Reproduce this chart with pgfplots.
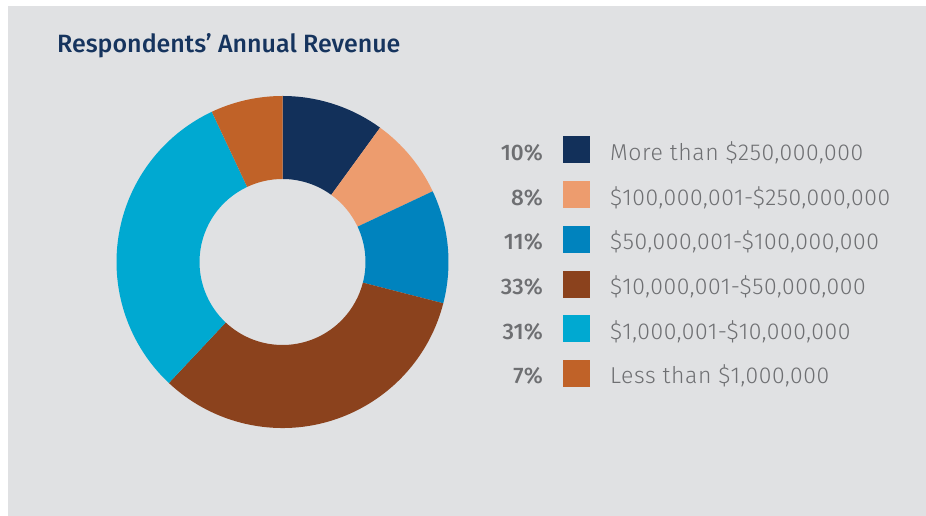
\documentclass[border=0pt]{standalone}
\usepackage{pgfplots}
\pgfplotsset{compat=1.18}
\usepackage{pgfplotstable}
\usepackage{fontspec}
\setmainfont{Fira Sans}
\newfontfamily\lightfont{Fira Sans Light}[LetterSpace=2.5]
\newfontfamily\medfont{Fira Sans Medium}

\definecolor{bg}{HTML}{E0E1E3}
\definecolor{s0}{HTML}{12305A}
\definecolor{s1}{HTML}{ED9C6E}
\definecolor{s2}{HTML}{0083BE}
\definecolor{s3}{HTML}{8B421D}
\definecolor{s4}{HTML}{00A9D1}
\definecolor{s5}{HTML}{C06228}
\definecolor{txt}{HTML}{6E6F72}
\definecolor{ttl}{HTML}{16345E}

\pgfplotstableread{
pct
10
8
11
33
31
7
}\revdata

\expandafter\def\csname lab0\endcsname{More than \$250,000,000}
\expandafter\def\csname lab1\endcsname{\$100,000,001-\$250,000,000}
\expandafter\def\csname lab2\endcsname{\$50,000,001-\$100,000,000}
\expandafter\def\csname lab3\endcsname{\$10,000,001-\$50,000,000}
\expandafter\def\csname lab4\endcsname{\$1,000,001-\$10,000,000}
\expandafter\def\csname lab5\endcsname{Less than \$1,000,000}

\begin{document}
\begin{tikzpicture}
\gdef\cum{0}
\foreach \i in {0,...,5}{%
  \pgfplotstablegetelem{\i}{pct}\of\revdata
  \let\p\pgfplotsretval
  \pgfmathsetmacro\sa{90-3.6*\cum}%
  \pgfmathsetmacro\nc{\cum+\p}%
  \pgfmathsetmacro\ea{90-3.6*\nc}%
  \expandafter\xdef\csname sa\i\endcsname{\sa}%
  \expandafter\xdef\csname ea\i\endcsname{\ea}%
  \expandafter\xdef\csname pc\i\endcsname{\p}%
  \xdef\cum{\nc}%
}
\begin{axis}[hide axis, scale only axis, width=926pt, height=516pt,
  xmin=0, xmax=926, ymin=0, ymax=516, clip=false]
\fill[white] (axis cs:0,0) rectangle (axis cs:926,516);
\fill[bg] (axis cs:8,0) rectangle (axis cs:926,510);
\node[anchor=base west, inner sep=0, text=ttl, font=\medfont\fontsize{25}{30}\selectfont]
  at (axis cs:57,463.7) {Respondents’ Annual Revenue};
\pgfplotsinvokeforeach{0,...,5}{
  \fill[s#1] (axis cs:282.5,254) ++(\csname sa#1\endcsname:166pt)
    arc[start angle=\csname sa#1\endcsname, end angle=\csname ea#1\endcsname, radius=166pt]
    -- ++(\csname ea#1\endcsname:-83pt)
    arc[start angle=\csname ea#1\endcsname, end angle=\csname sa#1\endcsname, radius=83pt]
    -- cycle;
  \fill[s#1] (axis cs:563,{366-44.7*#1-13.5}) rectangle (axis cs:590,{366-44.7*#1+13.5});
  \node[anchor=base east, inner sep=0, text=txt, font=\medfont\fontsize{22.5}{27}\selectfont]
    at (axis cs:543,{366-44.7*#1-10.5}) {\csname pc#1\endcsname\%};
  \node[anchor=base west, inner sep=0, text=txt, font=\lightfont\fontsize{23}{27}\selectfont]
    at (axis cs:610,{366-44.7*#1-10.5}) {\csname lab#1\endcsname};
}
\end{axis}
\end{tikzpicture}
\end{document}
